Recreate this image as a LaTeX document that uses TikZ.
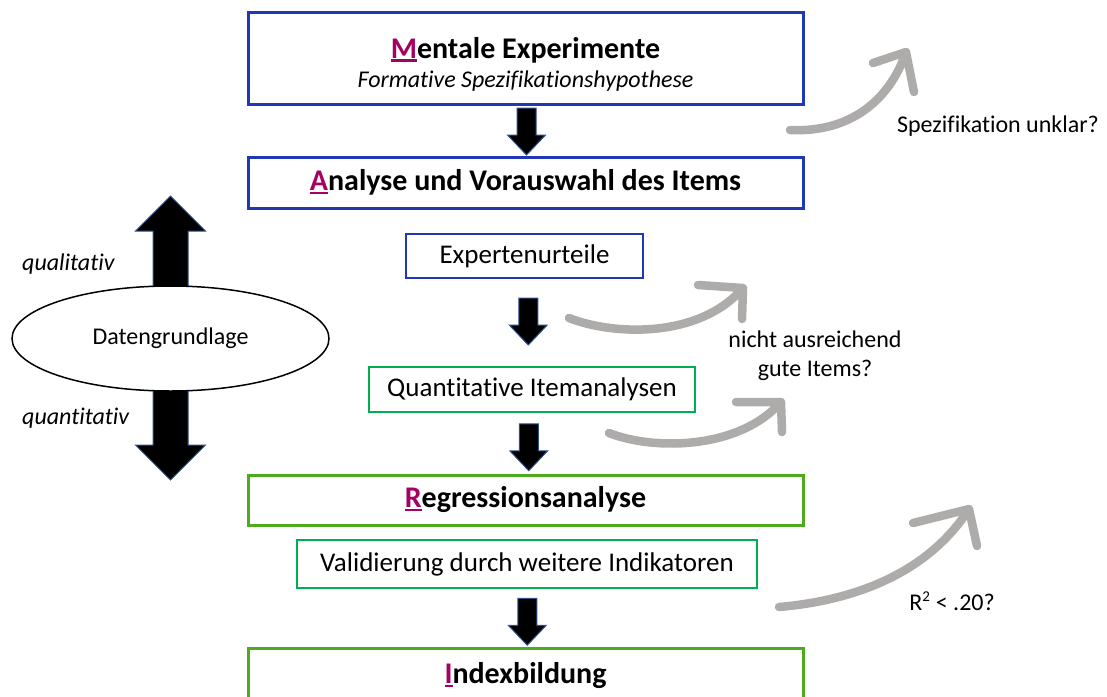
\documentclass[tikz,border=0pt]{standalone}
\usepackage{fontspec}
\setmainfont{Carlito}[Ligatures={NoCommon,NoContextual},Contextuals=NoAlternate]
\usetikzlibrary{shapes.geometric,calc}
\definecolor{bblue}{RGB}{32,56,180}
\definecolor{gthick}{RGB}{76,172,30}
\definecolor{gthin}{RGB}{0,176,80}
\definecolor{mag}{RGB}{165,0,100}
\definecolor{arrgray}{RGB}{174,171,171}
\definecolor{arroutline}{RGB}{47,82,143}
\newlength\ulw
\newcommand\firstl[1]{\settowidth{\ulw}{#1}\textcolor{mag}{\rlap{\rule[-3.5pt]{\ulw}{2.2pt}}#1}}
\begin{document}
\begin{tikzpicture}[x=1pt,y=-1pt,
  bigbox/.style={draw, line width=3pt, minimum width=555pt, inner sep=0pt, font=\fontsize{30}{34}\selectfont\bfseries, align=center},
  smallbox/.style={draw, line width=2pt, inner sep=0pt, font=\fontsize{27}{31}\selectfont},
  lbl/.style={font=\fontsize{24}{29}\selectfont, inner sep=0pt, align=center},
  blockarrow/.style={fill=black, draw=arroutline, line width=1pt},
  grayarr/.style={draw=arrgray, line width=8.5pt, line cap=round, line join=round,
     preaction={draw=white, line width=11.5pt, line cap=round, line join=round}},
  downarr/.pic={\draw[blockarrow] (-9.5,-23.5) -- (9.5,-23.5) -- (9.5,3.5) -- (19,3.5) -- (0,23.5) -- (-19,3.5) -- (-9.5,3.5) -- cycle;},
  uparrbig/.pic={\draw[blockarrow] (-17.5,0) -- (17.5,0) -- (17.5,-56) -- (35,-56) -- (0,-91) -- (-35,-56) -- (-17.5,-56) -- cycle;},
  downarrbig/.pic={\draw[blockarrow] (-17.5,0) -- (17.5,0) -- (17.5,55) -- (35,55) -- (0,90) -- (-35,55) -- (-17.5,55) -- cycle;}
]
\useasboundingbox (0,0) rectangle (1107,696);

% main boxes
\node[bigbox, draw=bblue, minimum height=92pt] (M) at (525.5,58) {};
\node[inner sep=0pt, font=\fontsize{30}{34}\selectfont\bfseries] (Mt) at (525.5,50) {\firstl{M}entale Experimente};
\node[inner sep=0pt, font=\fontsize{24}{28}\selectfont\itshape] (Ms) at (525.5,81) {Formative Spezifikationshypothese};
\node[bigbox, draw=bblue, minimum height=51pt] (A) at (525.5,182.5) {\firstl{A}nalyse und Vorauswahl des Items};
\node[smallbox, draw=bblue, minimum width=237pt, minimum height=44pt] (E) at (524.5,256) {Expertenurteile};
\node[smallbox, draw=gthin, minimum width=326pt, minimum height=45pt] (Q) at (532,389.5) {Quantitative Itemanalysen};
\node[bigbox, draw=gthick, minimum height=50pt] (R) at (525.5,500) {\firstl{R}egressionsanalyse};
\node[smallbox, draw=gthin, minimum width=460pt, minimum height=48pt] (V) at (527,564) {Validierung durch weitere Indikatoren};
\node[bigbox, draw=gthick, minimum height=56pt] (I) at (525.5,676) {\firstl{I}ndexbildung};

% black block arrows
\path ($(M.south)!.5!(A.north)+(1,1)$) pic{downarr};
\path ($(E.south)!.5!(Q.north)+(0,-1)$) pic{downarr};
\path ($(Q.south)!.5!(R.north)+(0,4)$) pic{downarr};
\path ($(V.south)!.5!(I.north)+(1,4)$) pic{downarr};

% left side
\path (170.5,287) pic{uparrbig};
\path (170.5,390) pic{downarrbig};
\node[draw, line width=1.5pt, ellipse, minimum width=317pt, minimum height=105pt, inner sep=0pt, fill=white, font=\fontsize{24}{29}\selectfont] (D) at (170.5,338.5) {Datengrundlage};
\node[lbl, anchor=west, font=\fontsize{24}{29}\selectfont\itshape] (ql) at (22,264) {qualitativ};
\node[lbl, anchor=west, font=\fontsize{24}{29}\selectfont\itshape] (qn) at (22,418) {quantitativ};

% gray curved arrows
\coordinate (t1) at (790,130); \coordinate (h1) at (906,52);
\coordinate (a1) at (873,63); \coordinate (b1) at (914,92);
\draw[grayarr] (t1) .. controls (850,133) and (890,100) .. (h1) (a1) -- (h1) -- (b1);

\coordinate (t2) at (569,318); \coordinate (h2) at (743,288);
\coordinate (a2) at (698,285); \coordinate (b2) at (742,319);
\draw[grayarr] (t2) .. controls (615,336) and (700,338) .. (h2) (a2) -- (h2) -- (b2);

\coordinate (t3) at (609,433); \coordinate (h3) at (781,402);
\coordinate (a3) at (736,402); \coordinate (b3) at (782,432);
\draw[grayarr] (t3) .. controls (655,451) and (740,449) .. (h3) (a3) -- (h3) -- (b3);

\coordinate (t4) at (779,607); \coordinate (h4) at (969,509);
\coordinate (a4) at (913,523); \coordinate (b4) at (977,546);
\draw[grayarr] (t4) .. controls (860,600) and (930,570) .. (h4) (a4) -- (h4) -- (b4);

% side labels
\node[lbl] (s1) at (998,126) {Spezifikation unklar?};
\node[lbl] (s2) at (815,356) {nicht ausreichend\\gute Items?};
\node[lbl] (s3) at (952,601) {R\textsuperscript{\fontsize{15}{15}\selectfont 2} < .20?};
\end{tikzpicture}
\end{document}
